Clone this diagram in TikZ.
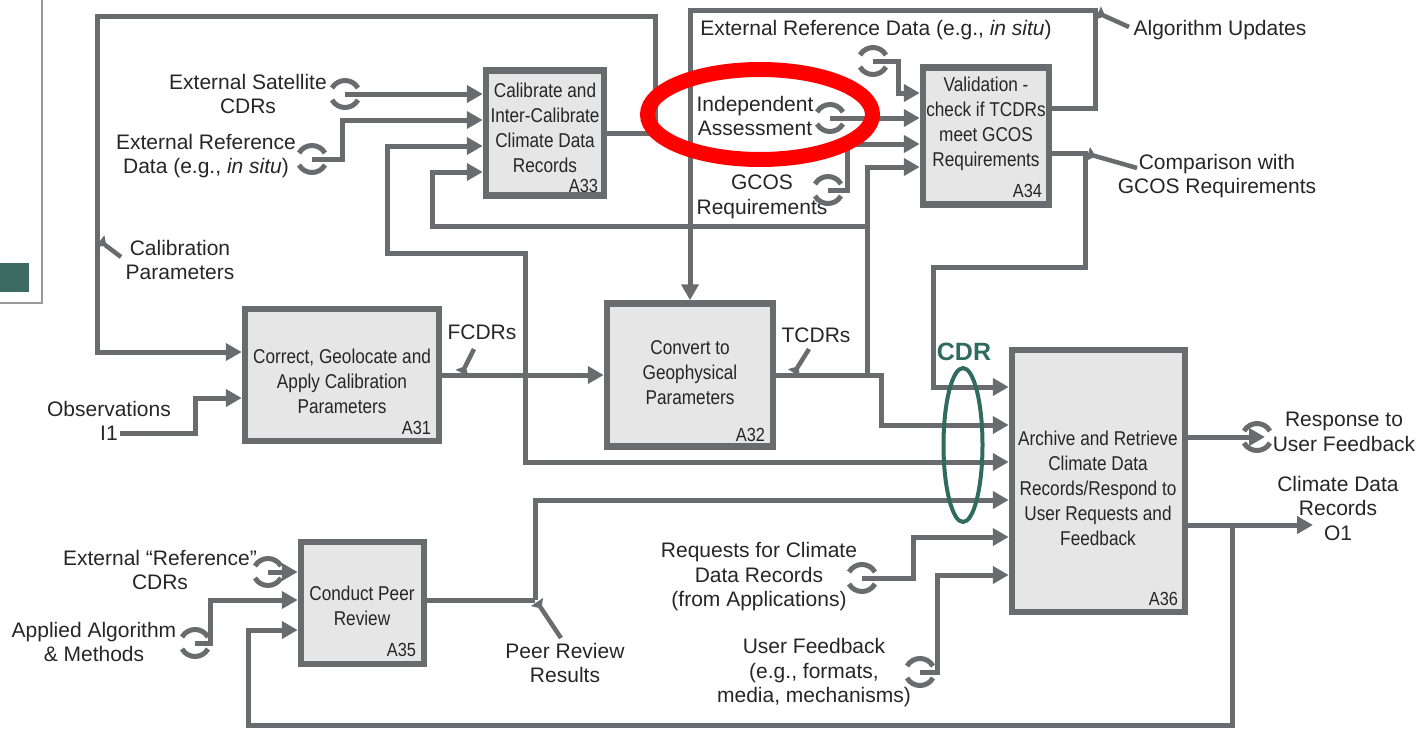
\documentclass[tikz,border=0pt]{standalone}
\usepackage{fontspec}
\setmainfont{Liberation Sans}
\newfontfamily\narrowfont[FakeStretch=0.86]{Liberation Sans}
\usetikzlibrary{arrows.meta}

\definecolor{linegray}{HTML}{6A6B6E}
\definecolor{boxfill}{HTML}{E6E6E6}
\definecolor{cdrteal}{HTML}{2F6B5F}
\definecolor{slideteal}{HTML}{3D6B63}

\newcommand{\lblfont}{\fontsize{21}{24.5}\selectfont}
\newcommand{\boxfont}{\narrowfont\fontsize{20}{25}\selectfont}
\newcommand{\numfont}{\narrowfont\fontsize{19}{19}\selectfont}

\tikzset{
	proc/.style={draw=linegray, fill=boxfill, line width=6.5pt, rectangle, inner sep=0pt},
	boxtxt/.style={font=\boxfont, align=center, inner sep=0pt, text=black!85},
	boxnum/.style={font=\numfont, inner sep=0pt, anchor=south east, text=black!85},
	lbl/.style={font=\lblfont, align=center, inner sep=0pt, text=black!85},
	flow/.style={draw=linegray, line width=5pt, -{Triangle[length=16pt,width=17pt]}},
	wire/.style={draw=linegray, line width=5pt},
	squig/.style={draw=linegray, line width=4.5pt, -{Triangle[reversed,length=8pt,width=14pt]}},
	tun/.style={draw=linegray, line width=5pt},
	tunnel/.pic={
		\draw[tun] (-13pt,6pt) .. controls (-7pt,16pt) and (7pt,16pt) .. (13pt,6pt);
		\draw[tun] (-13pt,-6pt) .. controls (-7pt,-16pt) and (7pt,-16pt) .. (13pt,-6pt);
	}
}

\begin{document}
\begin{tikzpicture}[x=1pt,y=-1pt]
	\useasboundingbox (0,0) rectangle (1421,728);

	% slide remnants, left edge
	\draw[gray!80, line width=1.5pt] (42,0) -- (42,303) -- (0,303);
	\fill[slideteal] (0,263) rectangle (29,292);

	% activity boxes
	\node[proc, minimum width=118pt, minimum height=125pt] (a33) at (545,133) {};
	\node[proc, minimum width=126pt, minimum height=137pt] (a34) at (986,136) {};
	\node[proc, minimum width=194pt, minimum height=132pt] (a31) at (342,375) {};
	\node[proc, minimum width=166pt, minimum height=143pt] (a32) at (690,375) {};
	\node[proc, minimum width=123pt, minimum height=122pt] (a35) at (362.5,603) {};
	\node[proc, minimum width=173pt, minimum height=262pt] (a36) at (1098.5,481) {};

	\node[boxtxt] (a33txt) at (545,128) {Calibrate and\\Inter-Calibrate\\Climate Data\\Records};
	\node[boxtxt] (a34txt) at (986,124) {Validation -\\check if TCDRs\\meet GCOS\\Requirements};
	\node[boxtxt] (a31txt) at (342,381) {Correct, Geolocate and\\Apply Calibration\\Parameters};
	\node[boxtxt] (a32txt) at (690,373) {Convert to\\Geophysical\\Parameters};
	\node[boxtxt] (a35txt) at (362,606) {Conduct Peer\\Review};
	\node[boxtxt] (a36txt) at (1098,488) {Archive and Retrieve\\Climate Data\\Records/Respond to\\User Requests and\\Feedback};

	\node[boxnum] (a33num) at ([shift={(-9pt,6pt)}]a33.south east) {A33};
	\node[boxnum] (a34num) at ([shift={(-10pt,10pt)}]a34.south east) {A34};
	\node[boxnum] (a31num) at ([shift={(-11pt,9pt)}]a31.south east) {A31};
	\node[boxnum] (a32num) at ([shift={(-11pt,8pt)}]a32.south east) {A32};
	\node[boxnum] (a35num) at ([shift={(-11pt,10pt)}]a35.south east) {A35};
	\node[boxnum] (a36num) at ([shift={(-10pt,9pt)}]a36.south east) {A36};

	% labels
	\node[lbl] (extsat)   at (248,94)   {External Satellite\\CDRs};
	\node[lbl] (extref)   at (206,156)  {External Reference\\Data (e.g., \textit{in situ})};
	\node[lbl] (calib)    at (180,260)  {Calibration\\Parameters};
	\node[lbl] (obs)      at (109,421)  {Observations\\I1};
	\node[lbl] (fcdr)     at (482,332)  {FCDRs};
	\node[lbl] (tcdr)     at (816,335)  {TCDRs};
	\node[lbl] (extref2)  at (876,30)   {External Reference Data (e.g., \textit{in situ})};
	\node[lbl] (indep)    at (755,116)  {Independent\\Assessment};
	\node[lbl] (gcos)     at (762,197)  {GCOS\\Requirements};
	\node[lbl] (algupd)   at (1220,30)  {Algorithm Updates};
	\node[lbl] (compare)  at (1217,176) {Comparison with\\GCOS Requirements};
	\node[lbl] (resp)     at (1344,432) {Response to\\User Feedback};
	\node[lbl] (cdrs)     at (1338,508) {Climate Data\\Records\\O1};
	\node[lbl] (refcdr)   at (160,570)  {External “Reference”\\CDRs};
	\node[lbl] (applied)  at (94,642)   {Applied Algorithm\\\& Methods};
	\node[lbl] (peer)     at (565,663)  {Peer Review\\Results};
	\node[lbl] (requests) at (759,577)  {Requests for Climate\\Data Records\\(from Applications)};
	\node[lbl] (feedback) at (814,673)  {User Feedback\\(e.g., formats,\\media, mechanisms)};
	\node[lbl, font=\fontsize{25}{25}\selectfont\bfseries, text=cdrteal] (cdrtag) at (964,352) {CDR};

	% arrow ends and junctions
	\coordinate (t-extsat)  at (345,94);
	\coordinate (t-extref)  at (312,159);
	\coordinate (t-extref2) at (873,61);
	\coordinate (t-indep)   at (830,118);
	\coordinate (t-gcos)    at (828,190);
	\coordinate (t-refcdr)  at (268,572);
	\coordinate (t-applied) at (195,643);
	\coordinate (t-req)     at (862,578);
	\coordinate (t-fb)      at (920,672);
	\coordinate (t-resp)    at (1257,437);
	\coordinate (rtip)      at (1265,437);
	\coordinate (i1)        at (120,433);
	\coordinate (o1)        at (1313,525);
	\coordinate (fj)        at (525,375);
	\coordinate (tj)        at (867,375);
	\coordinate (tj2)       at (867,226);
	\coordinate (prj)       at (535,600);
	\coordinate (oj)        at (1232,525);

	\draw[flow] (t-extsat) -- (t-extsat -| a33.west);					%extsat--a33
	\draw[flow] (t-extref) -- (342,159) |- ([yshift=13pt]a33.west);		%extref--a33
	\draw[flow] (fj) -- (525,253) -- (387,253) |- ([yshift=-13pt]a33.west);	%fcdr--a33
	\draw[flow] (tj2) -- (432,226) |- ([yshift=-39pt]a33.west);			%tcdr--a33
	\draw[flow] (a33.east) -- (655,133) -- (655,16) -- (97,16) |- ([yshift=23pt]a31.west);	%a33--a31
	\draw[flow] (i1) -- (195,433) |- ([yshift=-23pt]a31.west);			%obs--a31
	\draw[flow] (a31) -- (a32);											%a31--a32
	\draw[flow] (a32) -- (881,375) |- ([yshift=56pt]a36.west);			%a32--a36
	\draw[flow] (tj) |- ([yshift=-31pt]a34.west);						%tcdr--a34
	\draw[flow] (fj) |- ([yshift=19pt]a36.west);						%fcdr--a36
	\draw[flow] ([yshift=28pt]a34.east) -- (1095,108) -- (1095,10) -- (690,10) -- (a32.north);	%a34--a32
	\draw[flow] ([yshift=-17pt]a34.east) -- (1085,153) -- (1085,267) -- (933,267) |- ([yshift=94pt]a36.west);	%a34--a36
	\draw[flow] (t-extref2) -- (898,61) |- ([yshift=43pt]a34.west);	%extref2--a34
	\draw[flow] (t-indep) -- (t-indep -| a34.west);					%indep--a34
	\draw[flow] (t-gcos) -- (847,190) |- ([yshift=-8pt]a34.west);		%gcos--a34
	\draw[flow] (t-refcdr) -- (t-refcdr -| a35.west);					%refcdr--a35
	\draw[flow] (t-applied) -- (210,643) |- ([yshift=3pt]a35.west);	%applied--a35
	\draw[wire] ([yshift=3pt]a35.east) -- (prj);						%a35--peer
	\draw[flow] (prj) |- ([yshift=-19pt]a36.west);					%peer--a36
	\draw[flow] (t-req) -- (913,578) |- ([yshift=-56pt]a36.west);		%requests--a36
	\draw[flow] (t-fb) -- (937,672) |- ([yshift=-94pt]a36.west);		%feedback--a36
	\draw[flow] ([yshift=44pt]a36.east) -- (rtip);						%a36--resp
	\draw[flow] ([yshift=-44pt]a36.east) -- (o1);						%a36--o1
	\draw[flow] (oj) -- (1232,725) -- (248,725) |- ([yshift=-27pt]a35.west);	%o1--a35

	% squiggles
	\draw[squig] (121,257) -- (100,241);
	\draw[squig] (474,349) -- (462,373);
	\draw[squig] (809,349) -- (794,373);
	\draw[squig] (1129,27) -- (1098,13);
	\draw[squig] (1137,168) -- (1088,154);
	\draw[squig] (561,638) -- (537,602);

	% tunnels
	\foreach \t in {t-extsat,t-extref,t-extref2,t-indep,t-gcos,t-refcdr,t-applied,t-req,t-fb,t-resp}
		\pic at (\t) {tunnel};

	% rings
	\draw[cdrteal, line width=4pt] (963,445) ellipse [x radius=19.5pt, y radius=77pt];
	\draw[red, line width=15pt] (760,114.5) ellipse [x radius=112.5pt, y radius=45pt];
\end{tikzpicture}
\end{document}
